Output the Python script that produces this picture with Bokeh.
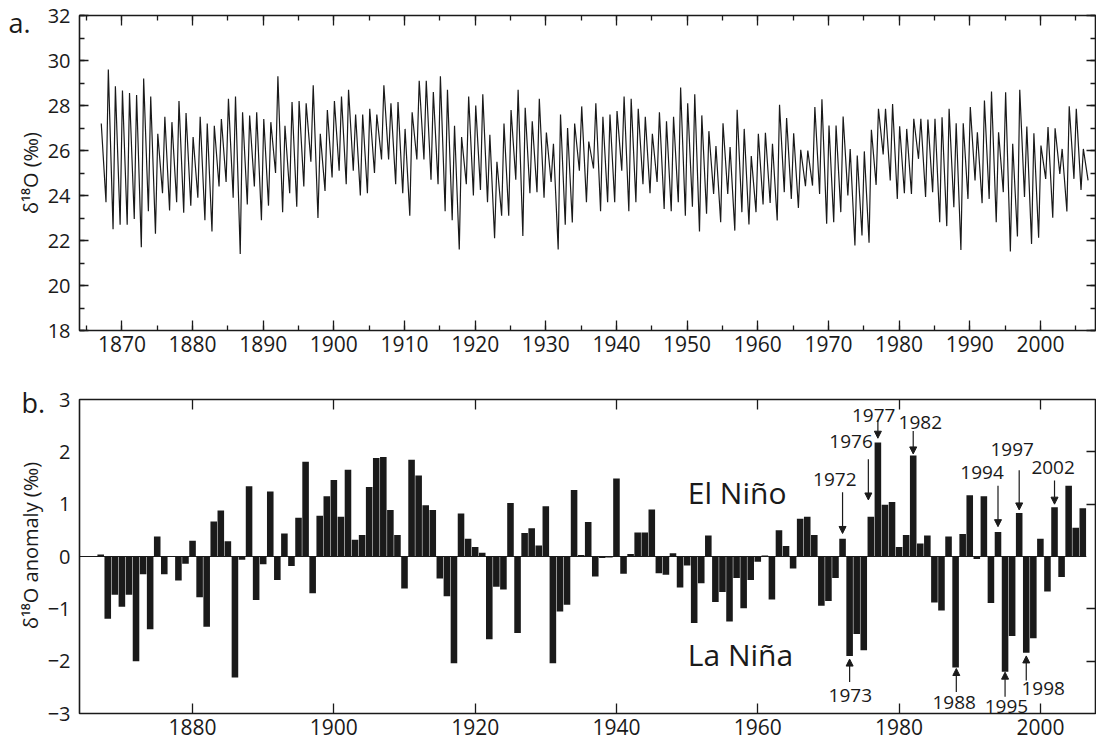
import math
from bokeh.plotting import figure
from bokeh.layouts import column, row
from bokeh.models import (LinearAxis, SingleIntervalTicker, FixedTicker,
                          Arrow, NormalHead, Range1d)
from bokeh.core.properties import value
from bokeh.embed import file_html
from bokeh.resources import INLINE

FONT = "Open Sans"
INK = "#1a1a1a"

# ---------------- Panel a: monthly coral d18O, read as yearly peak / trough ----------------
years_a = list(range(1867, 2007))
peak_a = [27.2, 29.6, 28.85, 28.67, 28.56, 28.47, 29.2, 28.4, 26.74, 27.5,
          27.26, 28.2, 27.67, 26.6, 27.5, 27.2, 27.1, 27.4, 28.3, 28.4,
          27.7, 27.55, 27.7, 27.4, 27.26, 29.3, 27.1, 28.15, 28.2, 28.1,
          28.9, 26.74, 27.8, 28.2, 28.4, 28.7, 27.6, 27.6, 27.85, 27.6,
          28.9, 28.1, 28.15, 26.96, 27.7, 29.1, 29.1, 28.6, 29.3, 28.7,
          27.1, 26.6, 28.4, 28.0, 28.5, 26.7, 25.5, 27.2, 27.8, 28.7,
          27.9, 27.3, 28.3, 26.8, 26.3, 27.6, 27.0, 27.2, 27.96, 26.4,
          28.1, 27.5, 27.6, 27.75, 28.4, 28.3, 27.85, 27.5, 26.74, 27.7,
          27.3, 27.5, 28.8, 28.1, 28.5, 27.56, 26.86, 26.2, 27.21, 26.15,
          27.81, 26.96, 25.75, 26.74, 26.79, 26.30, 28.03, 27.44, 26.77, 26.03,
          26.0, 27.93, 28.28, 27.11, 27.11, 27.51, 26.07, 25.78, 25.96, 26.92,
          27.85, 27.85, 28.07, 27.08, 26.96, 27.41, 27.41, 27.38, 27.41, 27.48,
          27.85, 27.21, 27.21, 27.93, 26.81, 28.22, 28.62, 26.81, 28.59, 26.3,
          28.70, 27.07, 26.77, 26.22, 27.04, 26.99, 26.07, 27.97, 27.85, 26.07]
trough_a = [23.7, 22.5, 22.7, 22.7, 22.96, 21.7, 23.3, 22.3, 24.1, 23.33,
            23.7, 23.23, 23.55, 23.9, 22.9, 22.4, 24.4, 24.6, 23.9, 21.4,
            23.6, 24.4, 22.9, 23.55, 25.0, 23.26, 24.1, 23.5, 24.4, 25.5,
            23.0, 24.2, 24.8, 25.1, 24.5, 25.1, 24.0, 24.1, 25.0, 25.6,
            25.6, 24.5, 24.1, 23.1, 25.6, 25.6, 24.7, 24.5, 23.3, 22.9,
            21.6, 24.5, 24.0, 24.25, 23.7, 22.1, 23.1, 23.1, 24.7, 22.2,
            24.1, 24.15, 23.9, 24.6, 21.6, 22.7, 22.8, 25.1, 23.7, 25.2,
            23.3, 23.7, 23.7, 25.1, 23.3, 23.7, 24.5, 24.1, 24.6, 23.4,
            23.3, 23.7, 23.1, 23.5, 22.4, 23.19, 24.07, 22.81, 24.07, 22.44,
            23.26, 22.71, 23.26, 23.6, 23.67, 22.89, 24.15, 23.85, 23.45, 24.41,
            24.44, 24.07, 22.74, 22.81, 23.26, 24.0, 21.78, 22.22, 21.9, 24.47,
            25.82, 24.67, 23.85, 24.1, 24.07, 25.63, 23.93, 24.15, 22.81, 22.64,
            23.48, 21.58, 23.85, 24.67, 23.66, 23.85, 22.81, 24.15, 21.51, 22.18,
            23.93, 21.85, 22.12, 24.74, 23.01, 24.96, 23.29, 24.74, 24.25, 24.67]
peak_phase = 0.08     # fraction of year where the annual maximum sits
trough_phase = 0.75   # fraction of year where the annual minimum sits

# ---------------- Panel b: annual d18O anomaly ----------------
years_b = list(range(1867, 2007))
anom_b = [0.04, -1.19, -0.73, -0.96, -0.73, -2.00, -0.34, -1.39, 0.38, -0.34,
          0.01, -0.46, -0.14, 0.30, -0.78, -1.34, 0.67, 0.88, 0.29, -2.31,
          -0.06, 1.34, -0.83, -0.15, 1.24, -0.45, 0.44, -0.18, 0.74, 1.81,
          -0.70, 0.78, 1.15, 1.46, 0.76, 1.66, 0.32, 0.41, 1.33, 1.88,
          1.90, 0.89, 0.41, -0.61, 1.85, 1.55, 0.98, 0.89, -0.42, -0.76,
          -2.04, 0.82, 0.34, 0.18, 0.07, -1.58, -0.58, -0.63, 1.02, -1.46,
          0.45, 0.54, 0.21, 0.96, -2.04, -1.05, -0.92, 1.27, 0.03, 0.66,
          -0.38, -0.03, -0.02, 1.49, -0.33, 0.05, 0.46, 0.46, 0.90, -0.32,
          -0.35, 0.06, -0.59, -0.17, -1.27, -0.51, 0.40, -0.87, -0.68, -1.24,
          -0.41, -0.99, -0.45, -0.10, 0.02, -0.82, 0.50, 0.20, -0.23, 0.72,
          0.76, 0.41, -0.94, -0.85, -0.41, 0.34, -1.90, -1.48, -1.79, 0.76,
          2.18, 0.99, 1.04, 0.18, 0.41, 1.93, 0.25, 0.40, -0.88, -1.03,
          0.38, -2.12, 0.43, 1.17, -0.05, 1.15, -0.89, 0.47, -2.20, -1.52,
          0.83, -1.84, -1.56, 0.34, -0.67, 0.94, -0.39, 1.35, 0.55, 0.92]

# annotated events: label text, arrow x (year), label position, arrow start/end
event_labels = ["1972", "1976", "1977", "1982", "1994", "1997", "2002",
                "1973", "1988", "1995", "1998"]
event_arrow_x = [1972.0, 1975.65, 1977.0, 1982.0, 1994.0, 1997.0, 2002.0,
                 1973.0, 1988.1, 1995.0, 1998.0]
event_text_x = [1970.9, 1973.2, 1976.4, 1983.0, 1991.75, 1996.0, 2001.8,
                1973.1, 1987.8, 1995.2, 2000.4]
event_text_y = [1.48, 2.19, 2.70, 2.56, 1.61, 2.04, 1.71,
                -2.65, -2.79, -2.86, -2.53]
event_arrow_y0 = [1.23, 1.86, 2.61, 2.40, 1.35, 1.65, 1.45,
                  -2.40, -2.59, -2.68, -2.37]
event_arrow_y1 = [0.44, 1.08, 2.26, 1.96, 0.57, 0.89, 1.00,
                  -1.96, -2.14, -2.21, -1.90]

# panel letters and y titles (text), placed in a left margin strip
panel_tags = ["a.", "b."]
y_titles = ["δ¹⁸O (‰)", "δ¹⁸O anomaly (‰)"]

X0, X1 = 1864.0, 2007.8
STRIP_W = 44
H_A, H_B = 362, 385
H_ALL = H_A + H_B


def style_axis(ax, labels=True, major_in=10, minor_in=5, size="21px"):
    ax.axis_line_color = None
    ax.major_tick_in = major_in
    ax.major_tick_out = 0
    ax.minor_tick_in = minor_in
    ax.minor_tick_out = 0
    ax.major_tick_line_color = INK
    ax.minor_tick_line_color = INK
    ax.major_tick_line_width = 1.3
    ax.minor_tick_line_width = 1.3
    ax.major_label_text_font = FONT
    ax.major_label_text_color = INK
    ax.major_label_text_font_size = size
    ax.major_label_text_font_style = "normal"
    if not labels:
        ax.major_label_text_font_size = "1px"
        ax.major_label_text_color = None
        ax.major_label_text_alpha = 0
        ax.major_label_standoff = 0


def base_fig(h, ylo, yhi, top, bottom):
    p = figure(width=1096 - STRIP_W, height=h, x_range=Range1d(X0, X1),
               y_range=Range1d(ylo, yhi),
               output_backend="svg", toolbar_location=None,
               min_border_left=76 - STRIP_W, min_border_right=1,
               min_border_top=top, min_border_bottom=bottom)
    p.grid.visible = False
    p.outline_line_color = INK
    p.outline_line_width = 1.6
    p.background_fill_color = "white"
    p.border_fill_color = "white"
    return p


# ---------- left strip (pixel coordinates, y downward) ----------
strip = figure(width=STRIP_W, height=H_ALL, x_range=Range1d(0, STRIP_W),
               y_range=Range1d(H_ALL, 0), output_backend="svg", toolbar_location=None,
               x_axis_location=None, y_axis_location=None,
               min_border_left=0, min_border_right=0, min_border_top=0, min_border_bottom=0)
strip.grid.visible = False
strip.outline_line_color = None
strip.background_fill_color = "white"
strip.border_fill_color = "white"
strip.text(x=[8, 21], y=[22, 402], text=panel_tags, text_font=value(FONT),
           text_font_size="27px", text_color=INK, text_align="left",
           text_baseline="alphabetic")
strip.text(x=[30, 30], y=[172.5, 545], text=y_titles, text_font=value(FONT),
           text_font_size="20px", text_color=INK, text_align="center",
           text_baseline="middle", angle=math.pi / 2)

# ---------- top panel ----------
xs, ys = [], []
for yr, pk, tr in zip(years_a, peak_a, trough_a):
    xs += [yr + peak_phase, yr + trough_phase]
    ys += [pk, tr]

pa = base_fig(H_A, 18, 32, 15, 32)
pa.line(xs, ys, line_color=INK, line_width=1.2)

pa.xaxis.ticker = SingleIntervalTicker(interval=10, num_minor_ticks=2)
pa.yaxis.ticker = SingleIntervalTicker(interval=2, num_minor_ticks=2)
style_axis(pa.xaxis[0], True, 10, 5)
style_axis(pa.yaxis[0], True, 9, 5, "20px")
pa.xaxis.major_label_standoff = 5
pa.yaxis.major_label_standoff = 9

ax_top = LinearAxis(ticker=SingleIntervalTicker(interval=10, num_minor_ticks=2))
style_axis(ax_top, False, 10, 5)
pa.add_layout(ax_top, "above")
ax_right = LinearAxis(ticker=SingleIntervalTicker(interval=2, num_minor_ticks=2))
style_axis(ax_right, False, 9, 5)
pa.add_layout(ax_right, "right")

# ---------- bottom panel ----------
pb = base_fig(H_B, -3, 3, 37, 34)
pb.segment(x0=[X0], y0=[0], x1=[years_b[-1] + 0.5], y1=[0], line_color=INK, line_width=1.2)
pb.vbar(x=years_b, top=anom_b, bottom=0, width=0.93, fill_color=INK, line_color=None)

pb.xaxis.ticker = SingleIntervalTicker(interval=20, num_minor_ticks=0)
pb.yaxis.ticker = SingleIntervalTicker(interval=1, num_minor_ticks=0)
style_axis(pb.xaxis[0], True, 10, 0)
style_axis(pb.yaxis[0], True, 0, 0, "20px")
pb.yaxis.major_tick_line_color = None
pb.xaxis.major_label_standoff = 5
pb.yaxis.major_label_standoff = 9
pb.yaxis.major_label_overrides = {-1: "−1", -2: "−2", -3: "−3"}

bx_top = LinearAxis(ticker=SingleIntervalTicker(interval=20, num_minor_ticks=0))
style_axis(bx_top, False, 10, 0)
pb.add_layout(bx_top, "above")
bx_right = LinearAxis(ticker=FixedTicker(ticks=[-2, -1, 1, 2]))
style_axis(bx_right, False, 9, 0)
pb.add_layout(bx_right, "right")

pb.text(x=event_text_x, y=event_text_y, text=event_labels, text_font=value(FONT),
        text_font_size="19px", text_color=INK, text_align="center", text_baseline="middle")
for ax_, y0_, y1_ in zip(event_arrow_x, event_arrow_y0, event_arrow_y1):
    pb.add_layout(Arrow(end=NormalHead(size=7, fill_color=INK, line_color=INK, line_width=1),
                        x_start=ax_, y_start=y0_, x_end=ax_, y_end=y1_,
                        line_color=INK, line_width=1.2))

pb.text(x=[1950.1, 1950.1], y=[1.23, -1.88], text=["El Niño", "La Niña"],
        text_font=value(FONT), text_font_size="30px", text_color=INK,
        text_align="left", text_baseline="middle")

layout = row(strip, column(pa, pb, spacing=0), spacing=0)
open("out.html", "w").write(file_html(layout, INLINE))
